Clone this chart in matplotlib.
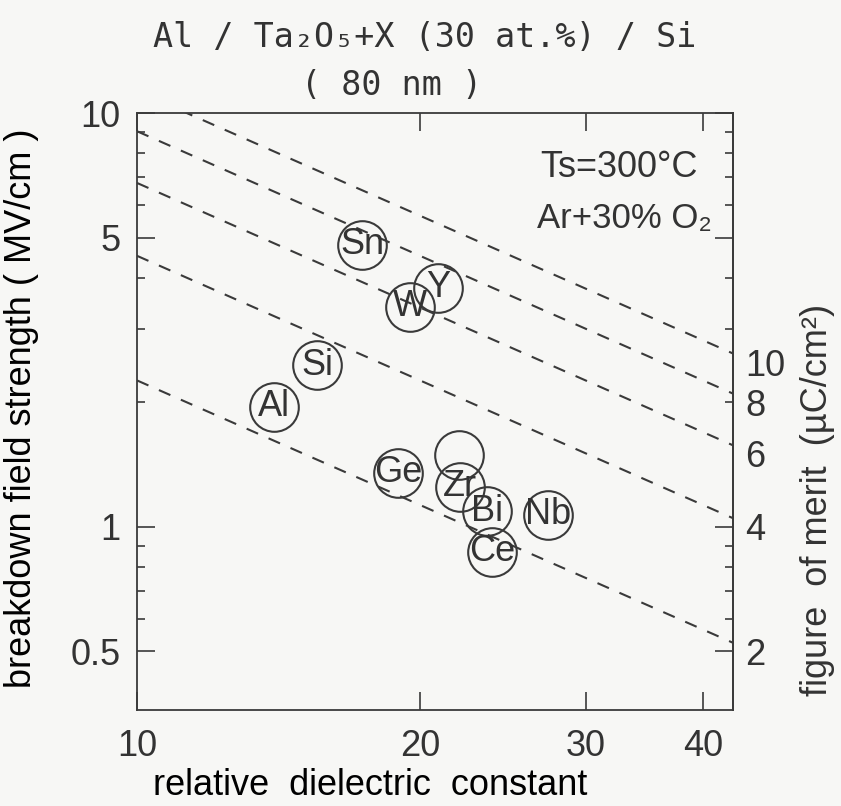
import numpy as np
import matplotlib.pyplot as plt
from matplotlib.ticker import NullLocator, NullFormatter

plt.rcParams.update(
    {
        "font.family": ["Liberation Sans", "DejaVu Sans"],
        "text.color": "#333333",
        "axes.edgecolor": "#3a3a3a",
        "axes.linewidth": 1.3,
        "xtick.color": "#3a3a3a",
        "ytick.color": "#3a3a3a",
        "xtick.labelcolor": "#333333",
        "ytick.labelcolor": "#333333",
        "figure.facecolor": "#f7f7f5",
        "axes.facecolor": "#f7f7f5",
    }
)

# Ta2O5 + X (30 at.%) films, X = dopant element
elements = ["Sn", "W", "Y", "Si", "Al", "Ge", "", "Zr", "Bi", "Nb", "Ce"]
eps_r = [17.35, 19.5, 20.9, 15.55, 14.0, 18.95, 22.0, 22.05, 23.55, 27.35, 23.85]
e_bd = [4.80, 3.40, 3.78, 2.46, 1.95, 1.35, 1.49, 1.25, 1.09, 1.07, 0.87]

# lines of constant figure of merit Q = eps0 * eps_r * E  (uC/cm2)
fom_levels = [2, 4, 6, 8, 10]
EPS0 = 0.08854  # uC/cm2 per unit eps_r per MV/cm
FOM_SCALE = 4.0  # right axis: Q read at the right edge

x_ticks = [10, 20, 30, 40]
y_major = [0.5, 1, 5, 10]
y_minor = [0.6, 0.7, 0.8, 0.9, 2, 3, 4, 6, 7, 8, 9]

xlim = (10, 43.05)
ylim = (0.361, 10)

fig = plt.figure(figsize=(8.41, 8.06), dpi=100)
ax = fig.add_axes([0.1629, 0.1191, 0.7087, 0.7407])
ax.set_xscale("log")
ax.set_yscale("log")
ax.set_xlim(*xlim)
ax.set_ylim(*ylim)

x = np.geomspace(xlim[0], xlim[1], 200)
for q in fom_levels:
    ax.plot(x, q / (EPS0 * x), color="#3a3a3a", lw=1.5, ls=(0, (6, 5.5)), zorder=2)

ax.plot(eps_r, e_bd, ls="none", marker="o", ms=35, mfc="none",
        mec="#3a3a3a", mew=1.5, zorder=3)
for name, xv, yv in zip(elements, eps_r, e_bd):
    ax.text(xv, yv, name, ha="center", va="center", fontsize=26,
            color="#333333", zorder=4)

ax.set_xticks(x_ticks, labels=[str(t) for t in x_ticks])
ax.xaxis.set_minor_locator(NullLocator())
ax.set_yticks(y_major, labels=["0.5", "1", "5", "10"])
ax.set_yticks(y_minor, minor=True)
ax.yaxis.set_minor_formatter(NullFormatter())
ax.tick_params(which="both", direction="in", top=True, right=True,
               width=1.2, labelsize=26)
ax.tick_params(which="major", length=13)
ax.tick_params(which="minor", length=6)
ax.tick_params(axis="x", pad=14)
ax.tick_params(axis="y", pad=12)

ax.set_xlabel("relative  dielectric  constant", fontsize=26, va="center")
ax.xaxis.set_label_coords(0.391, -0.126)
ax.set_ylabel("breakdown field strength ( MV/cm )", fontsize=26, va="center")
ax.yaxis.set_label_coords(-0.193, 0.505)

sec = ax.secondary_yaxis(
    "right", functions=(lambda e: e * FOM_SCALE, lambda q: q / FOM_SCALE)
)
sec.set_yticks(fom_levels, labels=[str(q) for q in fom_levels])
sec.yaxis.set_minor_locator(NullLocator())
sec.tick_params(length=0, pad=9, labelsize=26)
fig.text(0.972, 0.38, "figure  of merit  (µC/cm²)", rotation=90,
         ha="center", va="center", fontsize=26)

ax.text(0.941, 0.908, "Ts=300°C", transform=ax.transAxes, ha="right",
        va="center", fontsize=26)
ax.text(0.965, 0.824, "Ar+30% O₂", transform=ax.transAxes, ha="right",
        va="center", fontsize=25)

fig.text(0.505, 0.953, "Al / Ta₂O₅+X (30 at.%) / Si", ha="center", va="center",
         family="DejaVu Sans Mono", fontsize=24, color="#333333")
fig.text(0.466, 0.8945, "( 80 nm )", ha="center", va="center",
         family="DejaVu Sans Mono", fontsize=24, color="#333333")

fig.savefig("out.png", dpi=100)
